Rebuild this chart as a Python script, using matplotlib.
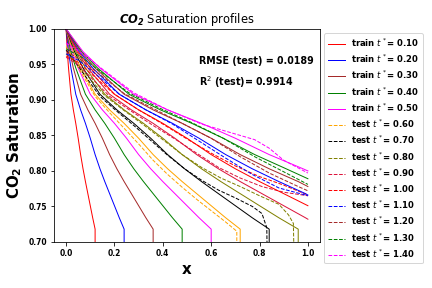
import matplotlib
matplotlib.use("Agg")
import matplotlib.pyplot as plt

# CO2 saturation shared by the true profiles
true_s = [1.000, 0.968, 0.945, 0.908, 0.886, 0.867, 0.846, 0.823, 0.803,
          0.785, 0.768, 0.751, 0.734, 0.718, 0.600]

train_times = [0.1, 0.2, 0.3, 0.4, 0.5]
test_times = [0.6, 0.7, 0.8, 0.9, 1.0, 1.1, 1.2, 1.3, 1.4]
train_colors = ["red", "blue", "brown", "green", "magenta"]
test_colors = ["orange", "black", "olive", "crimson", "red",
               "blue", "brown", "green", "magenta"]

# true profiles: x positions
true_x = {
    0.1: [0, .005, .01, .02, .03, .04, .05, .06, .07, .08, .09, .10, .11, .12, .12],
    0.2: [0, .01, .02, .04, .06, .08, .10, .12, .14, .16, .18, .20, .22, .24, .24],
    0.3: [0, .015, .03, .06, .09, .12, .15, .18, .21, .24, .27, .30, .33, .36, .36],
    0.4: [0, .02, .04, .08, .12, .16, .20, .24, .28, .32, .36, .40, .44, .48, .48],
    0.5: [0, .025, .05, .10, .15, .20, .25, .30, .35, .40, .45, .50, .55, .60, .60],
    0.6: [0, .03, .06, .12, .18, .24, .30, .36, .42, .48, .54, .60, .66, .72, .72],
    0.7: [0, .035, .07, .14, .21, .28, .35, .42, .49, .56, .63, .70, .77, .84, .84],
    0.8: [0, .04, .08, .16, .24, .32, .40, .48, .56, .64, .72, .80, .88, .96, .96],
    0.9: [0, .045, .09, .18, .27, .36, .45, .54, .63, .72, .81, .90, .99, 1.0],
    1.0: [0, .05, .10, .20, .30, .40, .50, .60, .70, .80, .90, 1.0],
    1.1: [0, .055, .11, .22, .33, .44, .55, .66, .77, .88, .99, 1.0],
    1.2: [0, .06, .12, .24, .36, .48, .60, .72, .84, .96, 1.0],
    1.3: [0, .065, .13, .26, .39, .52, .65, .78, .91, 1.0],
    1.4: [0, .07, .14, .28, .42, .56, .70, .84, .98, 1.0],
}
# saturation at x = 1 for profiles that reach the right boundary
end_s = {0.9: 0.732, 1.1: 0.766, 1.2: 0.778, 1.3: 0.789, 1.4: 0.800}

# predicted profiles for the test times
pred_x = {
    0.6: [0, .03, .06, .12, .18, .24, .30, .36, .42, .48, .54, .60, .66, .706, .706],
    0.7: [0, .035, .07, .14, .21, .28, .35, .42, .49, .56, .63, .70, .77, .81, .83, .835],
    0.8: [0, .04, .08, .16, .24, .32, .40, .48, .56, .64, .72, .80, .88, .92, .94, .947],
    0.9: [0, .045, .09, .18, .27, .36, .45, .54, .63, .72, .81, .90, 1.0],
    1.0: [0, .05, .10, .20, .30, .40, .50, .60, .70, .80, .90, 1.0],
    1.1: [0, .055, .11, .22, .33, .44, .55, .66, .77, .88, .99, 1.0],
    1.2: [0, .06, .12, .24, .36, .48, .60, .72, .84, .96, 1.0],
    1.3: [0, .065, .13, .26, .39, .52, .65, .78, .91, 1.0],
    1.4: [0, .07, .14, .28, .42, .56, .70, .78, .84, .90, 1.0],
}
pred_s = {
    0.6: [.975, .958, .940, .905, .882, .860, .838, .815, .795, .777, .760, .744, .728, .715, .600],
    0.7: [.970, .955, .938, .905, .884, .864, .843, .822, .803, .787, .773, .762, .750, .740, .720, .600],
    0.8: [.965, .953, .937, .906, .885, .865, .844, .823, .805, .790, .778, .765, .753, .738, .726, .600],
    0.9: [.960, .951, .936, .905, .884, .864, .845, .825, .805, .790, .778, .770, .765],
    1.0: [.962, .953, .938, .908, .886, .866, .845, .825, .807, .792, .780, .766],
    1.1: [.965, .955, .940, .908, .886, .866, .842, .818, .795, .776, .766, .765],
    1.2: [.968, .957, .941, .909, .888, .867, .846, .820, .797, .778, .772],
    1.3: [.972, .960, .943, .910, .888, .868, .846, .820, .797, .781],
    1.4: [.980, .965, .946, .910, .886, .866, .852, .844, .832, .815, .797],
}

rmse_test = 0.0189
r2_test = 0.9914


def true_curve(t):
    x = true_x[t]
    s = true_s[:len(x)]
    if t in end_s:
        s = true_s[:len(x) - 1] + [end_s[t]]
    return x, s


fig = plt.figure(figsize=(6, 4), dpi=72)
ax = fig.add_axes([0.125, 0.16, 0.6157, 0.7396])

for t, c in zip(train_times, train_colors):
    x, s = true_curve(t)
    ax.plot(x, s, color=c, lw=1, label=r"train $t^*$= %.2f" % t)

for t, c in zip(test_times, test_colors):
    x, s = true_curve(t)
    ax.plot(x, s, color=c, lw=1)
    ax.plot(pred_x[t], pred_s[t], color=c, lw=1, ls="--",
            label=r"test $t^*$= %.2f" % t)

ax.set_ylim(0.70, 1.00)
ax.set_xticks([0.0, 0.2, 0.4, 0.6, 0.8, 1.0])
for lab in ax.get_xticklabels() + ax.get_yticklabels():
    lab.set_fontweight("bold")
    lab.set_fontsize(7.5)

ax.text(0.55, 0.95, "RMSE (test) = %.4f" % rmse_test, fontsize=9.5, fontweight="bold")
ax.text(0.55, 0.92, r"R$^2$ (test)= %.4f" % r2_test, fontsize=9.5, fontweight="bold")

ax.set_title(r"$\mathbfit{CO_2}$ Saturation profiles", fontsize=11.5)
ax.set_xlabel("x", fontsize=15, fontweight="bold")
ax.set_ylabel(r"$\bf{CO_2}$ Saturation", fontsize=15, fontweight="bold")

ax.legend(loc="upper left", bbox_to_anchor=(1.0, 1.0), labelspacing=0.45,
          prop={"weight": "bold", "size": 8.5})

fig.savefig("out.png", dpi=72)
